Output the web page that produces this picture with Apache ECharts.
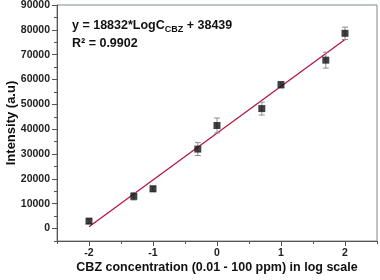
<!DOCTYPE html>
<html>
<head>
<meta charset="utf-8">
<script src="https://cdn.jsdelivr.net/npm/echarts@6/dist/echarts.min.js"></script>
<style>
  html, body { margin: 0; padding: 0; background: #fff; }
  #main { width: 380px; height: 280px; }
</style>
</head>
<body>
<div id="main"></div>
<script>
// log10 of CBZ concentration (ppm)
const logConc = [-2, -1.3, -1, -0.3, 0, 0.7, 1, 1.7, 2];
// measured intensity (a.u)
const intensity = [3000, 13000, 16000, 32000, 41500, 48300, 57900, 67800, 78600];
// error bar half-heights
const errors = [1000, 1500, 1100, 2600, 3000, 2600, 1300, 3200, 2500];
// linear fit end points (y = 18832*LogC + 38439)
const fitLine = [[-2, 775], [2, 76103]];

const yLabels = [0, 10000, 20000, 30000, 40000, 50000, 60000, 70000, 80000, 90000];
const yMinor = [-5000, 5000, 15000, 25000, 35000, 45000, 55000, 65000, 75000, 85000];
const xLabels = [-2, -1, 0, 1, 2];
const xMinor = [-2.5, -1.5, -0.5, 0.5, 1.5, 2.5];

const FONT = 'Liberation Sans, Arial, sans-serif';
const AXIS_COLOR = '#555';

const chart = echarts.init(document.getElementById('main'));

const option = {
  animation: false,
  grid: {
    left: 57, top: 5, right: 3, bottom: 39,
    outerBoundsMode: 'none',
    containLabel: false,
    show: true, borderColor: '#7d8a90', borderWidth: 1
  },
  xAxis: [{
    type: 'value', min: -2.5, max: 2.5, position: 'bottom',
    splitLine: { show: false },
    axisLine: { onZero: false, lineStyle: { color: AXIS_COLOR } },
    axisTick: { customValues: xLabels, length: 5, lineStyle: { color: AXIS_COLOR } },
    axisLabel: {
      customValues: xLabels, color: '#222', fontFamily: FONT,
      fontWeight: 'bold', fontSize: 10.5, margin: 7
    },
    name: 'CBZ concentration (0.01 - 100 ppm) in log scale',
    nameLocation: 'middle', nameGap: 20, nameMoveOverlap: false,
    nameTextStyle: { color: '#111', fontFamily: FONT, fontWeight: 'bold', fontSize: 12.5 }
  }, {
    type: 'value', min: -2.5, max: 2.5, position: 'bottom',
    splitLine: { show: false },
    axisLine: { show: false, onZero: false },
    axisTick: { customValues: xMinor, length: 3, lineStyle: { color: AXIS_COLOR } },
    axisLabel: { show: false }
  }],
  yAxis: [{
    type: 'value', min: -5000, max: 90000,
    splitLine: { show: false },
    axisLine: { show: true, onZero: false, lineStyle: { color: AXIS_COLOR } },
    axisTick: { show: true, customValues: yLabels, length: 5, lineStyle: { color: AXIS_COLOR } },
    axisLabel: {
      customValues: yLabels, color: '#222', fontFamily: FONT,
      fontWeight: 'bold', fontSize: 10.5, margin: 7,
      formatter: v => String(v)
    },
    name: 'Intensity (a.u)',
    nameLocation: 'middle', nameGap: 39, nameMoveOverlap: false,
    nameTextStyle: { color: '#111', fontFamily: FONT, fontWeight: 'bold', fontSize: 13 }
  }, {
    type: 'value', min: -5000, max: 90000, position: 'left',
    splitLine: { show: false },
    axisLine: { show: false, onZero: false },
    axisTick: { show: true, customValues: yMinor, length: 3, lineStyle: { color: AXIS_COLOR } },
    axisLabel: { show: false }
  }],
  graphic: [{
    type: 'text', left: 72, top: 19,
    style: {
      text: '{t|y = 18832*LogC}{s|CBZ}{t| + 38439}\n{t|R² = 0.9902}',
      rich: {
        t: { fontFamily: FONT, fontWeight: 'bold', fontSize: 12.5, fill: '#111', lineHeight: 18 },
        s: { fontFamily: FONT, fontWeight: 'bold', fontSize: 9, fill: '#111', verticalAlign: 'bottom', padding: [6, 0, 0, 0] }
      }
    }
  }],
  series: [{
    type: 'line',
    data: fitLine,
    symbol: 'none',
    lineStyle: { color: '#b5103c', width: 1.2 },
    z: 2
  }, {
    type: 'custom',
    data: logConc.map((x, i) => [x, intensity[i] - errors[i], intensity[i] + errors[i]]),
    renderItem: (params, api) => {
      const lo = api.coord([api.value(0), api.value(1)]);
      const hi = api.coord([api.value(0), api.value(2)]);
      const cap = 3;
      const style = { stroke: '#8a8f94', lineWidth: 1 };
      return {
        type: 'group',
        children: [
          { type: 'line', shape: { x1: lo[0], y1: lo[1], x2: hi[0], y2: hi[1] }, style },
          { type: 'line', shape: { x1: lo[0] - cap, y1: lo[1], x2: lo[0] + cap, y2: lo[1] }, style },
          { type: 'line', shape: { x1: hi[0] - cap, y1: hi[1], x2: hi[0] + cap, y2: hi[1] }, style }
        ]
      };
    },
    z: 3
  }, {
    type: 'scatter',
    data: logConc.map((x, i) => [x, intensity[i]]),
    symbol: 'rect',
    symbolSize: 7,
    itemStyle: { color: '#111' },
    z: 4
  }]
};

chart.setOption(option);
</script>
</body>
</html>
